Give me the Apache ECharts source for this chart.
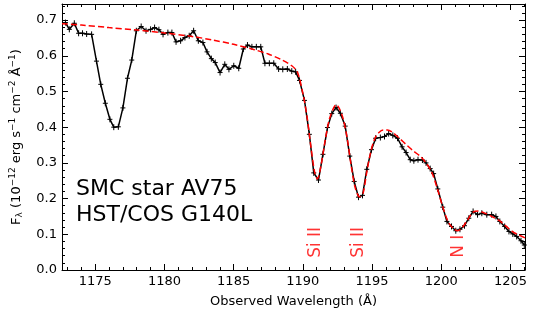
<!DOCTYPE html>
<html><head><meta charset="utf-8">
<script src="https://cdn.jsdelivr.net/npm/echarts@6/dist/echarts.min.js"></script>
<style>html,body{margin:0;padding:0;background:#fff}#c{width:533px;height:317px}</style>
</head><body><div id="c"></div>
<script>
const wavelength = [1172.85,1173.13,1173.49,1173.80,1174.08,1174.38,1174.74,1175.09,1175.40,1175.73,1176.06,1176.34,1176.67,1177.00,1177.33,1177.64,1177.97,1178.32,1178.67,1179.00,1179.29,1179.60,1179.90,1180.25,1180.54,1180.84,1181.17,1181.48,1181.79,1182.11,1182.45,1182.78,1183.08,1183.39,1183.67,1184.02,1184.36,1184.66,1185.01,1185.37,1185.70,1186.00,1186.32,1186.64,1186.96,1187.26,1187.58,1187.90,1188.25,1188.55,1188.88,1189.20,1189.48,1189.76,1190.12,1190.47,1190.79,1191.13,1191.45,1191.78,1192.09,1192.40,1192.71,1193.06,1193.39,1193.71,1194.02,1194.31,1194.62,1194.96,1195.26,1195.60,1195.90,1196.20,1196.50,1196.84,1197.17,1197.46,1197.76,1198.02,1198.32,1198.64,1198.90,1199.20,1199.45,1199.75,1200.11,1200.41,1200.74,1201.05,1201.35,1201.68,1201.99,1202.30,1202.62,1202.93,1203.29,1203.64,1203.95,1204.23,1204.58,1204.89,1205.17,1205.45,1205.76,1206.00];
const flux = [0.693,0.674,0.691,0.663,0.663,0.661,0.660,0.585,0.520,0.467,0.422,0.400,0.401,0.454,0.537,0.588,0.670,0.682,0.670,0.674,0.679,0.673,0.660,0.665,0.665,0.639,0.642,0.651,0.656,0.670,0.642,0.637,0.611,0.592,0.581,0.553,0.576,0.562,0.572,0.565,0.619,0.630,0.625,0.625,0.625,0.579,0.579,0.579,0.563,0.562,0.563,0.557,0.555,0.531,0.475,0.380,0.272,0.252,0.324,0.399,0.438,0.455,0.439,0.403,0.319,0.248,0.204,0.209,0.282,0.337,0.369,0.371,0.374,0.382,0.377,0.369,0.345,0.329,0.309,0.306,0.309,0.308,0.300,0.284,0.270,0.227,0.176,0.136,0.122,0.110,0.114,0.124,0.145,0.164,0.155,0.159,0.155,0.155,0.150,0.136,0.122,0.108,0.101,0.094,0.082,0.070];
const modelWavelength = [1172.6,1174,1176,1178,1180,1182,1183.5,1185,1186.5,1187.5,1188.5,1189.2,1189.6,1190.0,1190.3,1190.6,1190.85,1191.05,1191.3,1191.6,1191.9,1192.2,1192.4,1192.6,1192.9,1193.2,1193.5,1193.8,1194.1,1194.35,1194.6,1194.9,1195.2,1195.5,1195.8,1196.1,1196.5,1197.0,1197.5,1198.0,1198.5,1198.9,1199.3,1199.7,1200.1,1200.5,1200.9,1201.2,1201.5,1201.9,1202.3,1202.7,1203.1,1203.6,1204.2,1204.7,1205.2,1205.6,1206.05];
const modelFlux = [0.690,0.686,0.679,0.672,0.664,0.654,0.644,0.632,0.617,0.605,0.588,0.572,0.555,0.495,0.430,0.340,0.275,0.255,0.290,0.360,0.420,0.452,0.463,0.455,0.425,0.370,0.290,0.228,0.205,0.215,0.270,0.330,0.368,0.385,0.392,0.392,0.385,0.368,0.350,0.333,0.318,0.300,0.275,0.230,0.178,0.135,0.115,0.110,0.118,0.140,0.162,0.165,0.160,0.151,0.138,0.122,0.106,0.098,0.090];
const lineLabels = ['Si II','Si II','N I'];
const lineWavelengths = [1190.9, 1194.0, 1201.25];
const annotationLines = ['SMC star AV75','HST/COS G140L'];

const X_MIN = 1172.6, X_MAX = 1206.05, Y_MIN = 0, Y_MAX = 0.745;
const FONT = 'DejaVu Sans';

const chart = echarts.init(document.getElementById('c'), null, {renderer:'canvas'});

function xAxisCfg(pos, showLabels) {
  return {
    type:'value', position:pos, min:X_MIN, max:X_MAX, splitNumber:7,
    axisLine:{show:true, onZero:false, lineStyle:{color:'#000', width:1}},
    axisTick:{show:true, inside:true, length:6, lineStyle:{color:'#000', width:1}},
    minorTick:{show:true, splitNumber:5, length:3, lineStyle:{color:'#000', width:1}},
    splitLine:{show:false},
    axisLabel:{show:showLabels, showMinLabel:false, showMaxLabel:false, color:'#000', fontFamily:FONT, fontSize:13, margin:5,
      formatter: v => String(Math.round(v))},
    name: showLabels ? 'Observed Wavelength (Å)' : '',
    nameLocation:'middle', nameGap:25,
    nameTextStyle:{color:'#000', fontFamily:FONT, fontSize:13}
  };
}
function yAxisCfg(pos, showLabels) {
  return {
    type:'value', position:pos, min:Y_MIN, max:Y_MAX, interval:0.1,
    axisLine:{show:true, onZero:false, lineStyle:{color:'#000', width:1}},
    axisTick:{show:true, inside:true, length:6, lineStyle:{color:'#000', width:1}},
    minorTick:{show:true, splitNumber:5, length:3, lineStyle:{color:'#000', width:1}},
    splitLine:{show:false},
    axisLabel:{show:showLabels, showMaxLabel:false, color:'#000', fontFamily:FONT, fontSize:13, margin:5,
      formatter: v => v.toFixed(1)},
    name: showLabels ? 'F{sub|λ} (10{sup|−12} erg s{sup|−1} cm{sup|−2} Å{sup|−1})' : '',
    nameLocation:'middle', nameGap:37, nameRotate:90,
    nameTextStyle:{color:'#000', fontFamily:FONT, fontSize:13,
      rich:{
        sub:{fontFamily:FONT, fontSize:9, color:'#000', padding:[6,0,0,0]},
        sup:{fontFamily:FONT, fontSize:9, color:'#000', padding:[0,0,8,0]}
      }}
  };
}

const dataPairs = wavelength.map((w,i)=>[w, flux[i]]);
const modelPairs = modelWavelength.map((w,i)=>[w, modelFlux[i]]);
const labelPairs = lineWavelengths.map((w,i)=>({value:[w, 0.034], name: lineLabels[i]}));

chart.setOption({
  animation:false,
  backgroundColor:'#fff',
  grid:{left:54, right:8, top:4, bottom:47, containLabel:false},
  xAxis:[xAxisCfg('bottom', true), xAxisCfg('top', false)],
  yAxis:[yAxisCfg('left', true), yAxisCfg('right', false)],
  graphic:[{
    type:'text', left:76, top:176, z:100,
    style:{text: annotationLines.join('\n'), fill:'#000', font:'22px "DejaVu Sans"', lineHeight:26}
  }],
  series:[
    {type:'line', data:dataPairs, symbol:'none', lineStyle:{color:'#000', width:1.5}, z:2},
    {type:'custom', data:dataPairs, z:3,
      renderItem:(params, api)=>{
        const p = api.coord([api.value(0), api.value(1)]);
        return {type:'group', children:[
          {type:'line', shape:{x1:p[0]-2.5, y1:p[1], x2:p[0]+2.5, y2:p[1]}, style:{stroke:'#000', lineWidth:1}},
          {type:'line', shape:{x1:p[0], y1:p[1]-3, x2:p[0], y2:p[1]+3}, style:{stroke:'#000', lineWidth:1}}
        ]};
      }},
    {type:'line', data:modelPairs, symbol:'none', smooth:0.3, lineStyle:{color:'#ff0000', width:1.5, type:[6,3]}, z:4},
    {type:'scatter', data:labelPairs, symbolSize:0, z:5,
      label:{show:true, formatter:p=>p.name, rotate:90, position:'inside', align:'left', verticalAlign:'middle',
        color:'#ff0000', fontFamily:FONT, fontSize:17}}
  ]
});
</script>
</body></html>
